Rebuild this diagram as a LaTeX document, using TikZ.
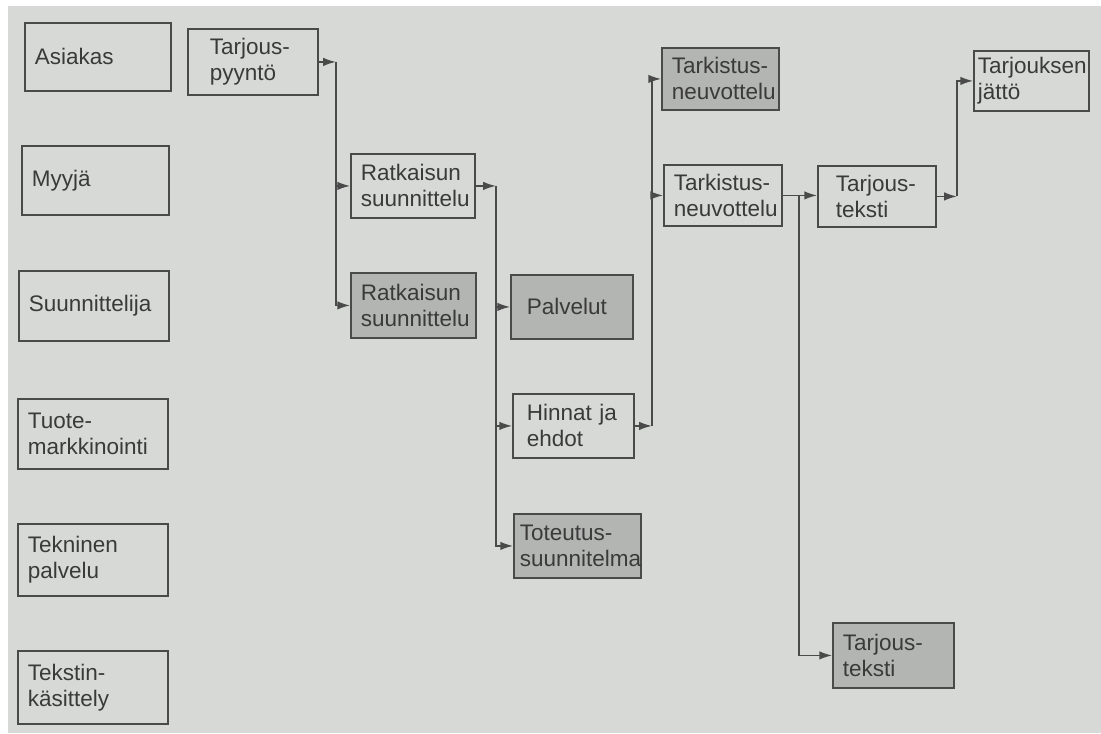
\documentclass[tikz,border=0pt]{standalone}
\usepackage{fontspec}
\setmainfont{Liberation Sans}
\usepackage{tikz}
\usetikzlibrary{positioning, calc, arrows.meta}
\usepackage{xcolor}

\definecolor{paper}{HTML}{D6D9D6}
\definecolor{shade}{HTML}{B3B5B2}
\definecolor{ink}{HTML}{4A4A4A}
\definecolor{txt}{HTML}{3A3A3A}

\tikzset{
    box/.style={draw=ink, line width=1.3pt, text=txt, anchor=north west, align=left,
        inner xsep=0.25cm, inner ysep=0pt, font=\fontsize{16}{18.5}\selectfont},
    dark/.style={box, fill=shade},
    flow/.style={draw=ink, line width=1pt, -{Latex[length=9pt,width=6pt]}}
}

\begin{document}
\begin{tikzpicture}[x=0.025cm, y=-0.025cm]
        \useasboundingbox (0,0) rectangle (1101,733);
        \fill[white] (0,0) rectangle (1101,733);
        \fill[paper] (8,6) rectangle (1101,733);

        %nodes (roles)
        \node[box, text width=3.15cm, minimum height=1.7cm] (asiakas) at (24,22) {Asiakas};
        \node[box, text width=3.175cm, minimum height=1.725cm] (myyja) at (21,145) {Myyjä};
        \node[box, text width=3.25cm, minimum height=1.75cm] (suunnittelija) at (18,270) {Suunnittelija};
        \node[box, text width=3.25cm, minimum height=1.75cm] (tuote) at (17,398) {Tuote-\\markkinointi};
        \node[box, text width=3.25cm, minimum height=1.8cm] (tekninen) at (17,523) {Tekninen\\palvelu};
        \node[box, text width=3.25cm, minimum height=1.825cm] (tekstin) at (17,650) {Tekstin-\\käsittely};

        %nodes (tasks)
        \node[box, inner xsep=0.55cm, text width=2.15cm, minimum height=1.65cm] (tp) at (187,28) {Tarjous-\\pyyntö};
        \node[box, text width=2.6cm, minimum height=1.6cm] (rs1) at (350,153) {Ratkaisun\\suunnittelu};
        \node[dark, text width=2.625cm, minimum height=1.625cm] (rs2) at (350,272) {Ratkaisun\\suunnittelu};
        \node[dark, inner xsep=0.4cm, text width=2.25cm, minimum height=1.6cm] (palvelut) at (510,274) {Palvelut};
        \node[box, inner xsep=0.35cm, text width=2.325cm, minimum height=1.6cm] (hinnat) at (512,393) {Hinnat ja\\ehdot};
        \node[dark, inner xsep=0.15cm, text width=2.875cm, minimum height=1.6cm] (toteutus) at (513,513) {Toteutus-\\suunnitelma};
        \node[dark, text width=2.425cm, minimum height=1.55cm] (tk1) at (661,47) {Tarkistus-\\neuvottelu};
        \node[box, text width=2.45cm, minimum height=1.525cm] (tk2) at (663,164) {Tarkistus-\\neuvottelu};
        \node[box, inner xsep=0.45cm, text width=2.05cm, minimum height=1.525cm] (tt1) at (817,165) {Tarjous-\\teksti};
        \node[box, inner xsep=0.1cm, text width=2.675cm, minimum height=1.5cm] (tj) at (973,50) {Tarjouksen\\jättö};
        \node[dark, text width=2.525cm, minimum height=1.625cm] (tt2) at (832,622) {Tarjous-\\teksti};

        %coordinates
        \coordinate (j1) at ($(tp.east) + (17,0)$);
        \coordinate (j2) at ($(rs1.east) + (20,0)$);
        \coordinate (j3) at ($(hinnat.east) + (17,0)$);
        \coordinate (j4) at ($(tk2.east) + (16,0)$);
        \coordinate (j5) at ($(tt1.east) + (20,0)$);

        %edges
        \draw[flow] (tp.east) -- (j1);
        \draw[flow] (j1) |- (rs1.west);
        \draw[flow] (j1) |- (rs2.west);

        \draw[flow] (rs1.east) -- (j2);
        \draw[flow] (j2) |- (palvelut.west);
        \draw[flow] (j2) |- (hinnat.west);
        \draw[flow] (j2) |- (toteutus.west);

        \draw[flow] (hinnat.east) -- (j3);
        \draw[flow] (j3) |- (tk1.west);
        \draw[flow] (j3) |- (tk2.west);

        \draw[flow] (tk2.east) -- (tk2.east -| tt1.west);
        \draw[flow] (j4) |- (tt2.west);

        \draw[flow] (tt1.east) -- (j5);
        \draw[flow] (j5) |- (tj.west);
\end{tikzpicture}
\end{document}
